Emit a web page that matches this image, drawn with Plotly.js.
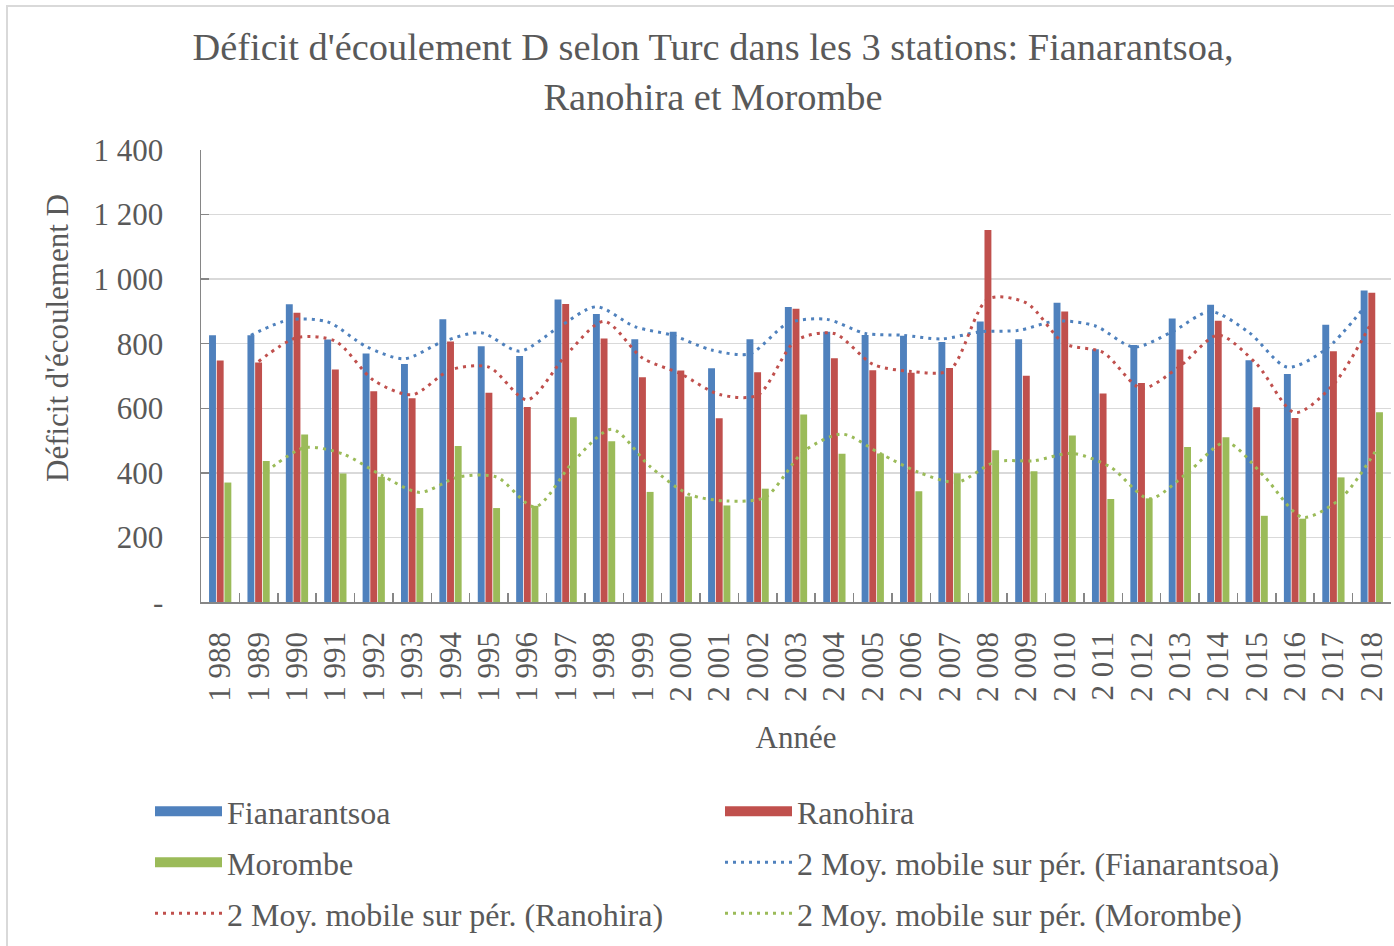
<!DOCTYPE html>
<html>
<head>
<meta charset="utf-8">
<script src="https://cdn.plot.ly/plotly-3.0.1.min.js"></script>
<style>html,body{margin:0;padding:0;background:#fff;}#chart{width:1394px;height:946px;}</style>
</head>
<body>
<div id="chart"></div>
<script>
const years = ['1 988','1 989','1 990','1 991','1 992','1 993','1 994','1 995','1 996','1 997','1 998','1 999','2 000','2 001','2 002','2 003','2 004','2 005','2 006','2 007','2 008','2 009','2 010','2 011','2 012','2 013','2 014','2 015','2 016','2 017','2 018'];
const fianarantsoa = [826,826,922,813,770,737,876,792,762,937,892,814,837,724,814,914,837,827,825,805,869,814,927,783,796,878,921,749,706,859,965];
const ranohira = [748,742,896,720,653,631,807,648,604,923,816,696,717,569,712,908,755,718,710,725,1152,701,900,646,678,782,871,603,570,777,958];
const morombe = [370,437,519,398,388,291,483,291,298,572,498,341,327,299,351,581,459,460,343,399,470,405,516,319,321,480,510,267,258,386,588];
const yTickVals = [0,200,400,600,800,1000,1200,1400];
const yTickText = ['-','200','400','600','800','1 000','1 200','1 400'];
const seriesNames = ['Fianarantsoa','Ranohira','Morombe'];
const colors = ['#4F81BD','#C0504D','#9BBB59'];

// 2-period moving average trendline (Excel style)
function movingAvg(a){ return a.map((v,i)=> i===0 ? null : (a[i-1]+v)/2); }

const series = [fianarantsoa, ranohira, morombe];
// legend rows: [Fian, Ran], [Mor, MA Fian], [MA Ran, MA Mor]
const barLegend = ['legend','legend','legend2'];
const maLegend = ['legend2','legend3','legend3'];
const traces = [];
series.forEach((s,k)=>{
  traces.push({type:'bar', x:years, y:s, name:seriesNames[k], marker:{color:colors[k]}, showlegend:false});
});
series.forEach((s,k)=>{
  traces.push({type:'scatter', mode:'lines', x:years, y:movingAvg(s), name:'2 Moy. mobile sur pér. ('+seriesNames[k]+')',
    line:{color:colors[k], width:3, dash:'3px,5px', shape:'spline', smoothing:0.8}, connectgaps:false,
    legend:maLegend[k], legendrank:10+k});
});
// legend swatches for the bar series (wide rectangles as in the original)
series.forEach((s,k)=>{
  traces.push({type:'scatter', mode:'lines', x:[null], y:[null], xaxis:'x2', yaxis:'y2', name:seriesNames[k],
    line:{color:colors[k], width:13}, legend:barLegend[k], legendrank:k, hoverinfo:'skip'});
});

const txt = '#595959';
const font = 'Liberation Serif, Times New Roman, serif';
const L=201, R=1391, T=150, B=602, W=1394, H=946;
const pw = R-L, ph = B-T;
const legBase = {orientation:'h', x:(150-L)/pw, xanchor:'left', yanchor:'top',
    entrywidth:488, entrywidthmode:'pixels', itemwidth:67, font:{size:32, color:txt}, traceorder:'normal', bgcolor:'rgba(0,0,0,0)'};

const layout = {
  width:W, height:H,
  margin:{l:L, r:W-R, t:T, b:H-B},
  paper_bgcolor:'#fff', plot_bgcolor:'#fff',
  font:{family:font, color:txt, size:31},
  barmode:'group', bargap:0.4, bargroupgap:0.1,
  scattermode:'group', scattergap:0.4,
  title:{text:"Déficit d'écoulement D selon Turc dans les 3 stations: Fianarantsoa,<br>Ranohira et Morombe",
    font:{family:font, color:txt, size:38.4}, xref:'container', yref:'container', x:713/W, xanchor:'center', y:1-60/H, yanchor:'middle'},
  xaxis:{type:'category', showgrid:false, showline:true, linecolor:'#868686', linewidth:1.5,
    ticks:'inside', tickson:'boundaries', ticklen:9, tickcolor:'#868686', tickwidth:1.5,
    tickangle:-90, tickfont:{size:31, color:txt}, ticklabelstandoff:16,
    title:{text:'Année', font:{size:31, color:txt}, standoff:25}, automargin:false},
  yaxis:{range:[0,1400], tickvals:yTickVals, ticktext:yTickText, showgrid:true, gridcolor:'#D9D9D9', gridwidth:1.5,
    showline:true, linecolor:'#868686', linewidth:1.5, ticks:'inside', ticklen:8, tickcolor:'#868686', tickwidth:1.5,
    tickfont:{size:31, color:txt}, ticklabelstandoff:30, zeroline:false, automargin:false},
  xaxis2:{overlaying:'x', visible:false, type:'category'},
  yaxis2:{overlaying:'y', visible:false, range:[0,1]},
  showlegend:true,
  legend:Object.assign({}, legBase, {y:(B-784)/ph}),
  legend2:Object.assign({}, legBase, {y:(B-835)/ph}),
  legend3:Object.assign({}, legBase, {y:(B-886)/ph}),
  annotations:[{text:"Déficit d'écoulement D", textangle:-90, xref:'paper', yref:'paper', x:(57-L)/pw, y:(B-338)/ph,
    xanchor:'center', yanchor:'middle', showarrow:false, font:{size:31, color:txt}}],
  shapes:[{type:'rect', xref:'paper', yref:'paper', x0:(7-L)/pw, x1:(1420-L)/pw, y0:(B-980)/ph, y1:(B-6)/ph,
    line:{color:'#D9D9D9', width:2}, layer:'below'}]
};

Plotly.newPlot('chart', traces, layout, {displayModeBar:false, staticPlot:true});
</script>
</body>
</html>
